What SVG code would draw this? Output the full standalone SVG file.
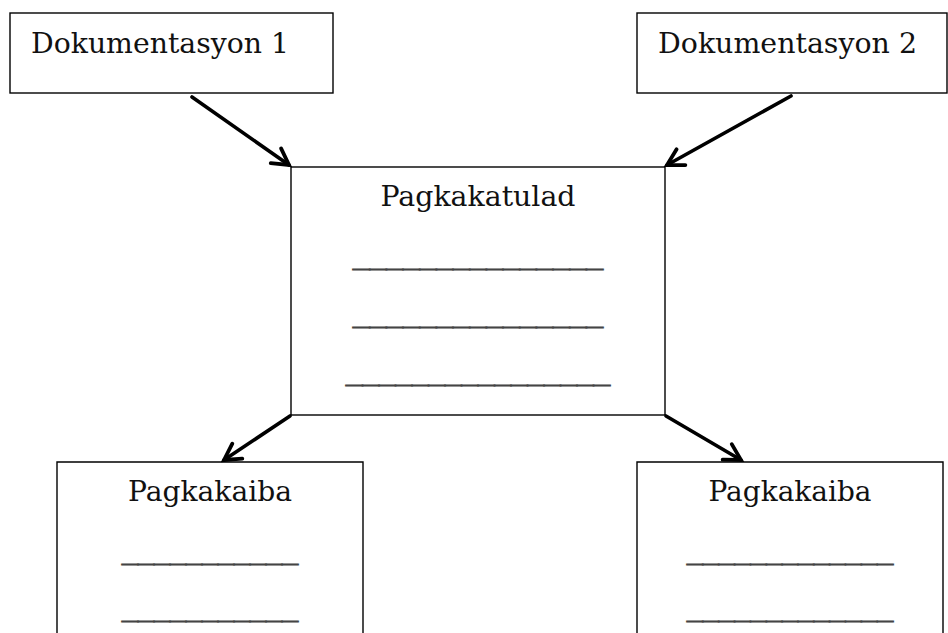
<svg xmlns="http://www.w3.org/2000/svg" width="948" height="633" viewBox="0 0 948 633">
<defs>
<style>
.box{fill:#fff;stroke:#000;stroke-width:1.4}
.t{font-family:"DejaVu Serif","Liberation Serif",serif;font-size:28px;fill:#111}
.u{font-family:"DejaVu Serif","Liberation Serif",serif;font-size:22px;fill:#444;stroke:#444;stroke-width:1.3}
.arr{stroke:#000;stroke-width:3.6;fill:none;stroke-linecap:round}
</style>
<marker id="ah" markerWidth="24" markerHeight="24" refX="19" refY="11" orient="auto" markerUnits="userSpaceOnUse" viewBox="0 0 24 22">
<path d="M3,2 L19,11 L3,20" fill="none" stroke="#000" stroke-width="3.8" stroke-linecap="round" stroke-linejoin="miter"/>
</marker>
</defs>
<rect width="948" height="633" fill="#fff"/>
<g id="doc1">
<rect class="box" x="10" y="13" width="323" height="80"/>
<text class="t" x="31" y="53" textLength="258" lengthAdjust="spacingAndGlyphs">Dokumentasyon 1</text>
</g>
<g id="doc2">
<rect class="box" x="637" y="13" width="310" height="80"/>
<text class="t" x="658" y="53" textLength="259" lengthAdjust="spacingAndGlyphs">Dokumentasyon 2</text>
</g>
<g id="pagkakatulad">
<rect class="box" x="291" y="167" width="374" height="248"/>
<text class="t" x="478" y="206" text-anchor="middle" textLength="195" lengthAdjust="spacingAndGlyphs">Pagkakatulad</text>
<text class="u" x="353" y="265" textLength="250" lengthAdjust="spacingAndGlyphs">_______________</text>
<text class="u" x="353" y="323" textLength="250" lengthAdjust="spacingAndGlyphs">_______________</text>
<text class="u" x="346" y="381" textLength="264" lengthAdjust="spacingAndGlyphs">________________</text>
</g>
<g id="pagkakaiba1">
<path class="box" d="M57,633 V462 H363 V633"/>
<text class="t" x="210" y="501" text-anchor="middle" textLength="164" lengthAdjust="spacingAndGlyphs">Pagkakaiba</text>
<text class="u" x="122" y="560" textLength="176" lengthAdjust="spacingAndGlyphs">___________</text>
<text class="u" x="122" y="617" textLength="176" lengthAdjust="spacingAndGlyphs">___________</text>
</g>
<g id="pagkakaiba2">
<path class="box" d="M637,633 V462 H943 V633"/>
<text class="t" x="790" y="501" text-anchor="middle" textLength="163" lengthAdjust="spacingAndGlyphs">Pagkakaiba</text>
<text class="u" x="687" y="560" textLength="206" lengthAdjust="spacingAndGlyphs">_____________</text>
<text class="u" x="687" y="617" textLength="206" lengthAdjust="spacingAndGlyphs">_____________</text>
</g>
<g id="connectors">
<line class="arr" x1="192" y1="97" x2="289" y2="165" marker-end="url(#ah)"/>
<line class="arr" x1="791" y1="96" x2="667" y2="165" marker-end="url(#ah)"/>
<line class="arr" x1="290" y1="416" x2="224" y2="460" marker-end="url(#ah)"/>
<line class="arr" x1="666" y1="416" x2="741" y2="460" marker-end="url(#ah)"/>
</g>
</svg>
